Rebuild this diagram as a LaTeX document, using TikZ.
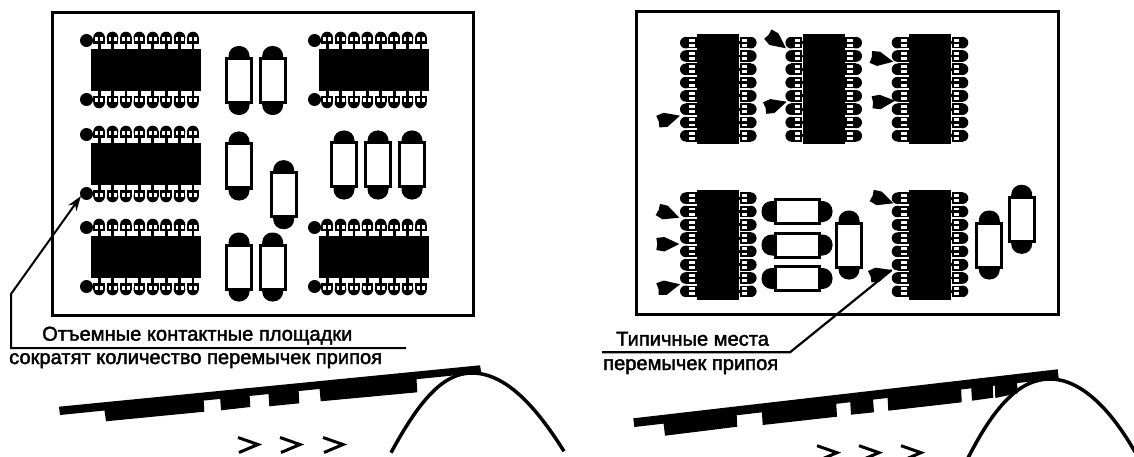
\documentclass[tikz,border=0pt]{standalone}
\usepackage{fontspec}
\setmainfont[FakeBold=2]{Liberation Sans}
\usetikzlibrary{
  arrows.meta,
  positioning
}
\newcommand{\padCell}[6]{
  \begin{scope}[shift={(#1,#2)},rotate=#3]
    \fill (#4,-5.8) rectangle (11.5,5.8);
    \fill (11.5,0) circle[radius=5.8pt];
    \fill (0,-1.4) rectangle (#4,1.4);
    \fill[white] (#5,1.1) rectangle (#6,4);
    \fill[white] (#5,-1.1) rectangle (#6,-4);
  \end{scope}
}
\newcommand{\chipH}[3]{
  \node[chipH] (#1) at (#2,#3) {};
  \node[landDot] at ({#2-59.5},{#3-29.5}) {};
  \node[landDot] at ({#2-59.5},{#3+29.5}) {};
  \foreach \k in {0,...,7} {
    \padCell{{#2-46.9+\k*13.4}}{{#3-21}}{90}{5}{7.5}{11.5}
    \padCell{{#2-46.9+\k*13.4}}{{#3+21}}{-90}{5}{7.5}{11.5}
  }
}
\newcommand{\chipV}[3]{
  \node[chipV] (#1) at (#2,#3) {};
  \foreach \k in {0,...,7} {
    \padCell{{#2-21}}{{#3-46.5+\k*13.3}}{180}{0.5}{2.5}{8}
    \padCell{{#2+21}}{{#3-46.5+\k*13.3}}{0}{0.5}{2.5}{8}
  }
}
\newcommand{\capV}[3]{
  \node[capEnd, minimum width=21pt, minimum height=69pt] at (#2,#3) {};
  \node[capBody, minimum width=25pt, minimum height=44pt] (#1) at (#2,#3) {};
}
\newcommand{\capH}[3]{
  \node[capEnd, minimum width=71pt, minimum height=21pt] at (#2,#3) {};
  \node[capBody, minimum width=44pt, minimum height=24pt] (#1) at (#2,#3) {};
}
\newcommand{\spearTip}[4]{
  \coordinate (#1) at (#2,#3);
  \fill[shift={(#1)},rotate=#4]
    (0,0) -- (-15,7.5) -- (-23,6) -- (-22,0) -- (-23,-6) -- (-15,-7) -- cycle;
}
\newcommand{\flowMark}[2]{
  \draw[line width=3pt] (#1,#2) -- ({#1+20},{#2+7}) -- ({#1+1},{#2+15});
}
\tikzset{
  boardFrame/.style={draw, line width=3pt, inner sep=0pt},
  chipH/.style={fill=black, inner sep=0pt, minimum width=110pt, minimum height=42pt},
  chipV/.style={fill=black, inner sep=0pt, minimum width=42pt, minimum height=110pt},
  landDot/.style={circle, fill=black, inner sep=0pt, minimum size=13pt},
  capEnd/.style={fill=black, inner sep=0pt, rounded corners=10pt},
  capBody/.style={draw, fill=white, line width=3pt, inner sep=0pt},
  noteText/.style={anchor=base west, inner sep=0pt, font=\fontsize{20.1}{22}\selectfont}
}
\begin{document}
\begin{tikzpicture}[
    >=Stealth,
    x=1pt, y=-1pt
  ]
  \useasboundingbox (0,0) rectangle (1134,457);
  \clip (0,0) rectangle (1134,457);

  \node[boardFrame, minimum width=421pt, minimum height=302.5pt] (leftBoard) at (262.5,164.2) {};
  \node[boardFrame, minimum width=422pt, minimum height=302pt] (rightBoard) at (847,163) {};

  \chipH{chipA}{146}{70}
  \chipH{chipB}{374}{70}
  \chipH{chipC}{146}{164}
  \chipH{chipD}{146}{257}
  \chipH{chipE}{374}{257}
  \capV{capA}{239}{80.5}
  \capV{capB}{272.7}{80.5}
  \capV{capC}{239}{166}
  \capV{capD}{283.7}{194.7}
  \capV{capE}{344}{165}
  \capV{capF}{378}{165}
  \capV{capG}{412}{165}
  \capV{capH}{239}{267}
  \capV{capI}{272.7}{267}

  \chipV{chipF}{718.3}{89.2}
  \chipV{chipG}{823.7}{89.2}
  \chipV{chipH}{930}{89.2}
  \chipV{chipI}{718.3}{244.7}
  \chipV{chipJ}{930}{244.7}
  \capH{capJ}{797}{211.5}
  \capH{capK}{797}{245}
  \capH{capL}{797}{278.5}
  \capV{capM}{849}{245}
  \capV{capN}{989.3}{245}
  \capV{capO}{1021.7}{219.3}

  \spearTip{tipA}{680}{115.7}{15}
  \spearTip{tipB}{786}{48.3}{-38}
  \spearTip{tipC}{786.7}{101.7}{16}
  \spearTip{tipD}{893.3}{61.7}{-12}
  \spearTip{tipE}{895}{100.7}{4}
  \spearTip{tipF}{679.3}{217.7}{-21}
  \spearTip{tipG}{679.3}{244}{0}
  \spearTip{tipH}{680}{284.3}{12}
  \spearTip{tipI}{893.3}{203.3}{-20}
  \spearTip{tipJ}{891.7}{270}{17}

  \node[noteText] (noteA) at (42,340.7) {Отъемные контактные площадки};
  \node[noteText] (noteB) at (9,364) {сократят количество перемычек припоя};
  \node[noteText] (noteC) at (616,345.7) {Типичные места};
  \node[noteText] (noteD) at (603,370) {перемычек припоя};

  \coordinate (leaderA) at (406,348);
  \coordinate (leaderB) at (11,348);
  \coordinate (leaderC) at (11,294);
  \coordinate (landTip) at (81,196);
  \draw[->, line width=2pt, >={Stealth[length=15pt,width=10pt]}]
    (leaderA) -- (leaderB) -- (leaderC) -- (landTip);

  \coordinate (leaderD) at (602,352.3);
  \coordinate (leaderE) at (790,352.3);
  \draw[line width=2.2pt] (leaderD) -- (leaderE) -- (tipJ);

  \fill (59,406.7) -- (60,415) -- (481.3,372.7) -- (480,365.3) -- cycle;
  \fill (104,407) -- (106,421.3) -- (204.3,411.7) -- (203.5,397) -- cycle;
  \fill (220,396) -- (221,410.3) -- (250.3,407) -- (249.5,393) -- cycle;
  \fill (268.3,391) -- (269.3,406.3) -- (299.3,403.3) -- (298.5,388) -- cycle;
  \fill (319.3,386) -- (320.7,401.3) -- (417.3,392.3) -- (416.3,376) -- cycle;
  \draw[line width=3.5pt] (391,452.7) .. controls (418,403) and (442,373) .. (471.7,373)
    .. controls (505,373) and (535,405) .. (564,451.3);
  \flowMark{238}{437.5}
  \flowMark{280}{437.5}
  \flowMark{323}{437.5}

  \fill (633.3,418.3) -- (634.3,427) -- (1058.7,378.3) -- (1057.7,369.3) -- cycle;
  \fill (663.3,421) -- (665,435.7) -- (737.3,426.7) -- (736.5,412) -- cycle;
  \fill (761.7,409) -- (762.7,425) -- (837,416.7) -- (836,400) -- cycle;
  \fill (850,398) -- (851,414.7) -- (874,412.3) -- (872.7,395) -- cycle;
  \fill (887.3,393) -- (888.3,410.7) -- (961.7,402.3) -- (961,385) -- cycle;
  \fill (971,384) -- (972,400.7) -- (993.3,397.7) -- (992.5,381) -- cycle;
  \fill (994.7,381) -- (995.3,398) -- (1017.7,393.3) -- (1016.7,378) -- cycle;
  \draw[line width=3.5pt] (968,458) .. controls (995,405) and (1020,379) .. (1050,379)
    .. controls (1080,379) and (1110,408) .. (1135,452);
  \flowMark{817}{445.7}
  \flowMark{859}{445.7}
  \flowMark{901}{445.7}
\end{tikzpicture}
\end{document}
